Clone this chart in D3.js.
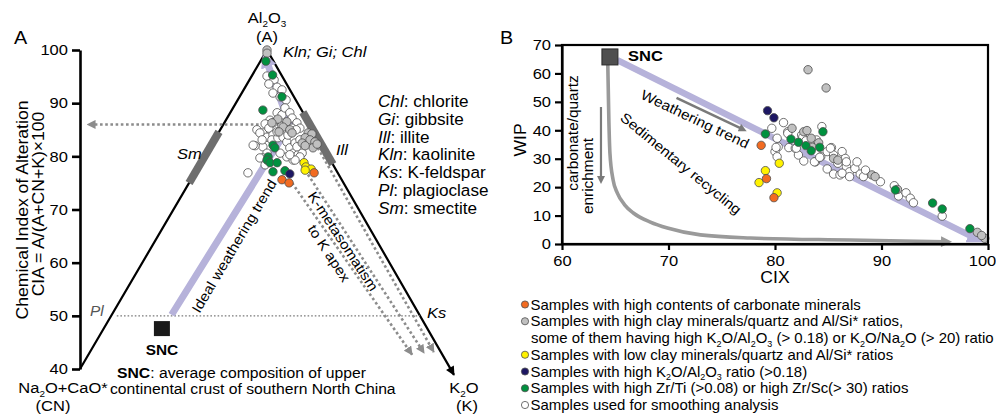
<!DOCTYPE html>
<html>
<head>
<meta charset="utf-8">
<script src="https://cdn.jsdelivr.net/npm/d3@7/dist/d3.min.js"></script>
<style>
body { margin: 0; background: #fff; }
svg { font-family: "Liberation Sans", Arial, sans-serif; }
</style>
</head>
<body>
<svg id="chart" width="996" height="418"></svg>
<script>
// ---- data ----
var ciaTicks = [40, 50, 60, 70, 80, 90, 100];
var cixTicks = [60, 70, 80, 90, 100];
var wipTicks = [0, 10, 20, 30, 40, 50, 60, 70];

// panel A samples: [position across triangle (% from CN to K), CIA]
var aOpen = [[50.0,95.1],[51.9,94.4],[50.5,93.6],[52.7,93.0],[54.0,92.5],[51.6,91.9],[53.5,91.2],[55.1,90.6],
  [52.7,88.2],[54.0,87.8],[54.8,89.1],[56.1,88.2],[56.7,87.2],[58.0,86.3],[58.8,85.3],[50.8,86.8],[49.5,86.1],
  [51.6,86.3],[47.3,85.0],[48.9,84.4],[50.5,85.3],[50.0,83.6],[51.6,84.0],[51.3,83.1],[52.9,83.5],[52.7,84.6],
  [54.8,84.6],[54.3,83.6],[55.3,82.7],[56.1,81.6],[57.5,82.5],[57.0,80.6],[55.3,79.9],[57.0,79.3],[58.3,80.3],
  [59.4,80.6],[53.5,80.6],[48.9,81.8],[46.8,82.0],[50.0,80.6],[48.9,79.7],[49.5,78.4],[44.9,76.9],[48.1,84.4],
  [46.3,82.1],[48.1,79.7],[58.8,79.9],[57.5,79.3],[56.1,80.3],[54.0,85.7],[55.6,84.0],[56.7,85.3],[48.7,83.1],
  [57.8,85.0],[58.8,83.1],[58.0,81.8]];
var aGray = [[50.0,100.0],[50.0,99.4],[52.9,87.0],[55.3,86.5],[54.3,85.5],[56.1,85.0],[53.2,84.6],[51.3,86.3],
  [56.7,84.4],[61.0,84.4],[62.0,84.2],[60.2,83.5],[61.5,83.1],[62.8,82.7],[59.4,82.5],[62.3,81.6],[60.2,82.0],[63.4,82.3]];
var aGreen = [[49.7,97.9],[51.5,95.3],[54.0,91.2],[48.9,88.7],[51.6,82.1],[52.1,81.6],[50.3,79.9],[50.0,79.3],
  [50.8,78.8],[52.7,78.8],[51.6,77.1],[54.8,77.3]];
var aYellow = [[59.9,78.8],[60.4,78.0],[61.8,77.6],[60.2,77.4]];
var aOrange = [[54.0,75.6],[55.9,75.0],[62.6,76.9]];
var aNavy = [[56.1,76.7]];

// panel B samples: [CIX, WIP]
var bOpen = [[79.7,40.7],[80.2,37.2],[80.3,34.2],[80.0,32.5],[80.2,30.7],[80.8,42.7],[81.2,39.5],[81.3,33.9],
  [81.9,33.7],[82.2,31.3],[82.7,29.2],[82.5,38.3],[84.4,41.3],[83.8,28.9],[84.3,30.7],[84.9,32.5],[85.3,33.9],
  [85.5,31.3],[84.9,26.4],[85.5,24.6],[86.1,24.3],[86.3,32.5],[86.6,30.1],[86.7,27.2],[87.0,25.4],[87.5,26.6],
  [87.7,28.9],[88.0,24.6],[88.3,23.7],[88.5,26.0],[85.9,28.4],[89.9,21.9],[91.2,20.5],[91.6,16.9],[92.3,18.0],
  [92.7,16.1],[93.0,14.5],[95.7,9.8],[80.1,34.0],[81.2,38.9],[82.6,37.5],[82.0,33.7],[83.7,28.9],[84.2,30.5],
  [85.2,33.7],[86.3,24.9],[87.0,23.7],[86.7,28.9],[82.9,36.3],[83.9,36.6]];
var bGray = [[83.1,61.3],[84.8,54.9],[81.6,40.7],[82.7,39.5],[83.0,39.9],[83.4,37.2],[84.1,35.6],[83.5,34.0],
  [85.5,30.1],[85.9,29.5],[89.1,24.3],[89.4,23.7],[91.5,19.2],[99.0,4.1],[99.7,2.0],[99.4,3.0]];
var bGreen = [[79.1,38.7],[81.5,36.9],[82.2,35.8],[82.9,34.6],[83.4,32.8],[84.2,34.0],[84.5,39.5],[91.3,19.0],
  [94.8,14.4],[95.7,12.3],[98.3,5.4]];
var bYellow = [[80.4,28.4],[79.1,25.8],[78.5,21.6],[80.2,18.0]];
var bOrange = [[78.7,34.7],[79.2,23.0],[79.9,16.3]];
var bNavy = [[79.3,46.9],[79.9,44.4]];

// reference compositions and trend lines
var sncA = [21.9, 47.6];
var sncB = [64.5, 65.8];
var idealTrend = [[24.5,50.2],[56.1,85.9],[50.0,97.7]];
var ciaArrow = [[56.1,86.0],[2.0,86.0]];
var kMetaArrows = [[[56.7,75.0],[88.8,42.7]], [[60.2,77.4],[92.0,43.0]], [[63.6,81.6],[94.6,43.2]]];
var weatherTrendB = [[65.2,64.7],[98.6,2.4]];
var recycleCurve = [[64.3,63.0],[64.4,43.6],[64.5,32.0],[64.8,22.5],[65.2,17.9],[65.9,13.7],[66.7,10.9],
  [68.3,7.7],[69.9,5.6],[73.0,3.2],[77.7,2.1],[87.0,1.4],[96.0,0.8]];
var weatherArrowB = [[70.75,51.4],[77.0,40.3]];
var carbArrow = [[63.66,48.2],[63.66,22.5]];

var minerals = [["Chl","chlorite"],["Gi","gibbsite"],["Ill","illite"],["Kln","kaolinite"],
  ["Ks","K-feldspar"],["Pl","plagioclase"],["Sm","smectite"]];

var colors = {open: "#ffffff", gray: "#c0c0c0", green: "#00913f", yellow: "#fff200", orange: "#f26b21", navy: "#1d1763"};

var legendRows = [
  ["orange", "Samples with high contents of carbonate minerals"],
  ["gray", "Samples with high clay minerals/quartz and Al/Si* ratios,"],
  [null, "some of them having high K_2O/Al_2O_3 (> 0.18) or K_2O/Na_2O (> 20) ratio"],
  ["yellow", "Samples with low clay minerals/quartz and Al/Si* ratios"],
  ["navy", "Samples with high K_2O/Al_2O_3  ratio (>0.18)"],
  ["green", "Samples with high Zr/Ti (>0.08) or high Zr/Sc(> 30) ratios"],
  ["open", "Samples used for smoothing analysis"]
];

// ---- helpers ----
var SX = 1.1;
var svg = d3.select("#chart");
var defs = svg.append("defs");

function marker(id, color, w, h, refX) {
  defs.append("marker").attr("id", id)
    .attr("viewBox", "0 0 10 10").attr("refX", refX).attr("refY", 5)
    .attr("markerWidth", w).attr("markerHeight", h)
    .attr("markerUnits", "userSpaceOnUse").attr("orient", "auto")
    .append("path").attr("d", "M0,0L10,5L0,10Z").attr("fill", color);
}
marker("arBlack", "#000", 10, 9, 9);
marker("arGray", "#8c8c8c", 9, 9, 9);
marker("arPurple", "#b6b2da", 16, 16, 3);
marker("arCurve", "#999", 13, 11, 4);
marker("arDark", "#7a7a7a", 9, 8, 5);

function label(g, x, y, str, size, o) {
  o = o || {};
  var sx = o.sx || SX;
  var t = g.append("text")
    .attr("transform", "translate(" + x + "," + y + ")" + (o.rotate ? " rotate(" + o.rotate + ")" : "") + " scale(" + sx + ",1)")
    .attr("font-size", size)
    .attr("text-anchor", o.anchor || "start")
    .attr("fill", o.fill || "#000");
  if (o.weight) t.attr("font-weight", o.weight);
  if (o.style) t.attr("font-style", o.style);
  var shift = 0;
  str.split(/(_\d|\*\*[^*]+\*\*|~[^~]+~)/).filter(function(s) { return s.length; }).forEach(function(s) {
    var sp;
    if (s[0] === "_" && s.length === 2) {
      sp = t.append("tspan").attr("font-size", size * 0.6).attr("dy", size * 0.28).text(s[1]);
      shift = size * 0.28;
      return;
    }
    if (s.slice(0, 2) === "**") sp = t.append("tspan").attr("font-weight", "bold").text(s.slice(2, -2));
    else if (s[0] === "~") sp = t.append("tspan").attr("font-style", "italic").text(s.slice(1, -1));
    else sp = t.append("tspan").text(s);
    if (shift) { sp.attr("dy", -shift); shift = 0; }
  });
  return t;
}

function dots(g, data, key, px, py) {
  g.append("g").selectAll("circle").data(data).join("circle")
    .attr("cx", function(d) { return px(d[0]); })
    .attr("cy", function(d) { return py(d[1]); })
    .attr("r", 4.2)
    .attr("fill", colors[key])
    .attr("stroke", "#4d4d4d").attr("stroke-width", 0.8);
}

// ================= panel A =================
var ga = svg.append("g");
var ya = d3.scaleLinear().domain([40, 100]).range([369, 50]);
var xa = d3.scaleLinear().domain([0, 100]).range([80, 454]);
var lineA = d3.line().x(function(d) { return xa(d[0]); }).y(function(d) { return ya(d[1]); });
function leftEdge(c) { return [(c - 40) / 60 * 50, c]; }
function rightEdge(c) { return [100 - (c - 38.9) / 61.1 * 50, c]; }

// CIA axis
var axA = ga.append("g").attr("transform", "translate(" + xa(0) + ",0)")
  .call(d3.axisLeft(ya).tickValues(ciaTicks).tickSize(8).tickSizeOuter(0).tickPadding(3));
axA.select(".domain").attr("stroke-width", 2.6);
axA.selectAll(".tick line").attr("stroke-width", 2.6);
axA.selectAll(".tick text").attr("font-size", 15).attr("font-family", "Liberation Sans, Arial, sans-serif")
  .attr("transform", "scale(" + SX + ",1)");

label(ga, 14, 44, "A", 18);
label(ga, 28, 210, "Chemical Index of Alteration", 16, {rotate: -90, anchor: "middle"});
label(ga, 44, 204, "CIA = A/(A+CN+K)×100", 16, {rotate: -90, anchor: "middle"});

// triangle
ga.append("path").attr("d", lineA([[0, 40], [50, 100], [100, 38.9]]))
  .attr("fill", "none").attr("stroke", "#000").attr("stroke-width", 2.2)
  .attr("stroke-linejoin", "miter").attr("marker-end", "url(#arBlack)");

// mineral zones on the edges
ga.append("path").attr("d", lineA([leftEdge(84.6), leftEdge(75.0)]))
  .attr("stroke", "#6e6e6e").attr("stroke-width", 8).attr("fill", "none");
ga.append("path").attr("d", lineA([rightEdge(88.3), rightEdge(78.5)]))
  .attr("stroke", "#6e6e6e").attr("stroke-width", 8).attr("fill", "none");

// CIA = 50 feldspar join
ga.append("path").attr("d", lineA([leftEdge(50).map(function(v, i) { return i ? v : v + 1.5; }), rightEdge(50)]))
  .attr("stroke", "#7a7a7a").attr("stroke-width", 1.1).attr("stroke-dasharray", "1.6,2").attr("fill", "none");

// dotted arrows
ga.append("path").attr("d", lineA(ciaArrow))
  .attr("stroke", "#8c8c8c").attr("stroke-width", 2.6).attr("stroke-dasharray", "2.6,2.6")
  .attr("fill", "none").attr("marker-end", "url(#arGray)");
kMetaArrows.forEach(function(a) {
  ga.append("path").attr("d", lineA(a))
    .attr("stroke", "#8c8c8c").attr("stroke-width", 2.6).attr("stroke-dasharray", "2.6,2.6")
    .attr("fill", "none").attr("marker-end", "url(#arGray)");
});

// ideal weathering trend
ga.append("path").attr("d", lineA(idealTrend))
  .attr("stroke", "#b6b2da").attr("stroke-width", 7).attr("fill", "none")
  .attr("stroke-linejoin", "round").attr("marker-end", "url(#arPurple)");

// samples
dots(ga, aOpen, "open", xa, ya);
dots(ga, aGray, "gray", xa, ya);
dots(ga, aGreen, "green", xa, ya);
dots(ga, aYellow, "yellow", xa, ya);
dots(ga, aOrange, "orange", xa, ya);
dots(ga, aNavy, "navy", xa, ya);

// SNC
ga.append("rect").attr("x", xa(sncA[0]) - 8).attr("y", ya(sncA[1]) - 7.5)
  .attr("width", 16).attr("height", 15).attr("fill", "#1a1a1a");
label(ga, xa(sncA[0]), ya(sncA[1]) + 26, "SNC", 14, {anchor: "middle", weight: "bold"});

// labels
label(ga, 267, 23, "Al_2O_3", 15, {anchor: "middle"});
label(ga, 267, 42, "(A)", 15, {anchor: "middle"});
label(ga, 283, 57, "Kln; Gi; Chl", 15, {style: "italic"});
label(ga, 63, 393, "Na_2O+CaO*", 15, {anchor: "middle"});
label(ga, 53, 411, "(CN)", 15, {anchor: "middle"});
label(ga, 464, 393, "K_2O", 15, {anchor: "middle"});
label(ga, 467, 411, "(K)", 15, {anchor: "middle"});
label(ga, 177, 159, "Sm", 15, {style: "italic"});
label(ga, 336, 155, "Ill", 15, {style: "italic"});
label(ga, 90, 316, "Pl", 14, {style: "italic", fill: "#555"});
label(ga, 427, 318, "Ks", 15, {style: "italic"});
label(ga, 238.3, 248.5, "Ideal weathering trend", 14, {rotate: -59.3, anchor: "middle"});
label(ga, 339, 244, "K-metasomatism", 14, {rotate: 56.7, anchor: "middle"});
label(ga, 325, 256, "to K apex", 14, {rotate: 56.7, anchor: "middle"});
label(ga, 117, 378, "**SNC**: average composition of upper", 14.3);
label(ga, 110, 394, "continental crust of southern North China", 14.3);

minerals.forEach(function(m, i) {
  label(ga, 378, 107 + i * 17.8, "~" + m[0] + "~: " + m[1], 15.6);
});

// ================= panel B =================
var gb = svg.append("g");
var xb = d3.scaleLinear().domain([60, 100]).range([562, 988]);
var yb = d3.scaleLinear().domain([0, 70]).range([244, 45]);
var lineB = d3.line().x(function(d) { return xb(d[0]); }).y(function(d) { return yb(d[1]); });

gb.append("path").attr("d", lineB(weatherTrendB))
  .attr("stroke", "#b6b2da").attr("stroke-width", 6.5).attr("fill", "none")
  .attr("marker-end", "url(#arPurple)");
gb.append("path").attr("d", lineB.curve(d3.curveMonotoneX)(recycleCurve))
  .attr("stroke", "#9a9a9a").attr("stroke-width", 3.6).attr("fill", "none")
  .attr("marker-end", "url(#arCurve)");
lineB.curve(d3.curveLinear);
gb.append("path").attr("d", lineB(weatherArrowB))
  .attr("stroke", "#7a7a7a").attr("stroke-width", 2.6).attr("fill", "none")
  .attr("marker-end", "url(#arDark)");
gb.append("path").attr("d", lineB(carbArrow))
  .attr("stroke", "#7a7a7a").attr("stroke-width", 2.2).attr("fill", "none")
  .attr("marker-end", "url(#arDark)");

dots(gb, bOpen, "open", xb, yb);
dots(gb, bGray, "gray", xb, yb);
dots(gb, bGreen, "green", xb, yb);
dots(gb, bYellow, "yellow", xb, yb);
dots(gb, bOrange, "orange", xb, yb);
dots(gb, bNavy, "navy", xb, yb);

gb.append("rect").attr("x", xb(sncB[0]) - 8).attr("y", yb(sncB[1]) - 8)
  .attr("width", 16).attr("height", 16).attr("fill", "#4f4f4f").attr("stroke", "#2a2a2a").attr("stroke-width", 1);
label(gb, 628, 61, "SNC", 15, {weight: "bold"});

// frame and axes
gb.append("rect").attr("x", xb(60)).attr("y", yb(70)).attr("width", xb(100) - xb(60)).attr("height", yb(0) - yb(70))
  .attr("fill", "none").attr("stroke", "#000").attr("stroke-width", 2.2);
var axBy = gb.append("g").attr("transform", "translate(" + xb(60) + ",0)")
  .call(d3.axisLeft(yb).tickValues(wipTicks).tickSize(7).tickSizeOuter(0).tickPadding(3));
var axBx = gb.append("g").attr("transform", "translate(0," + yb(0) + ")")
  .call(d3.axisBottom(xb).tickValues(cixTicks).tickSize(6).tickSizeOuter(0).tickPadding(5));
[axBy, axBx].forEach(function(ax) {
  ax.select(".domain").attr("stroke-width", 2.2);
  ax.selectAll(".tick line").attr("stroke-width", 2.2);
  ax.selectAll(".tick text").attr("font-size", 15).attr("font-family", "Liberation Sans, Arial, sans-serif")
    .attr("transform", function(d) { return (d === 100 ? "translate(-6,0) " : "") + "scale(" + SX + ",1)"; });
});

label(gb, 500, 44, "B", 18);
label(gb, 526, 140, "WIP", 16, {rotate: -90, anchor: "middle"});
label(gb, 775, 283, "CIX", 16, {anchor: "middle"});
label(gb, 693, 123.5, "Weathering trend", 14, {rotate: 25.5, anchor: "middle"});
label(gb, 677.8, 167.3, "Sedimentary recycling", 14, {rotate: 39.3, anchor: "middle"});
label(gb, 578, 133, "carbonate/quartz", 14, {rotate: -90, anchor: "middle"});
label(gb, 593, 176, "enrichment", 14, {rotate: -90, anchor: "middle"});

// legend
var lg = svg.append("g");
legendRows.forEach(function(r, i) {
  var y = 304.5 + i * 16.75;
  if (r[0]) lg.append("circle").attr("cx", 525).attr("cy", y).attr("r", 3.6)
    .attr("fill", colors[r[0]]).attr("stroke", "#4d4d4d").attr("stroke-width", 0.8);
  label(lg, r[0] ? 530.5 : 531, y + 5, r[1], 14, {sx: 1.07});
});
</script>
</body>
</html>
